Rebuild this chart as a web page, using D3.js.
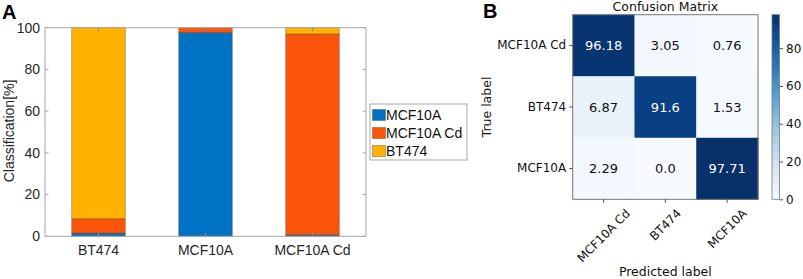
<!DOCTYPE html>
<html>
<head>
<meta charset="utf-8">
<script src="https://cdn.jsdelivr.net/npm/d3@7"></script>
<style>
  body { margin: 0; background: #fff; }
  svg { display: block; }
</style>
</head>
<body>
<div id="chart"></div>
<script>
var width = 803;
var height = 279;

// panel A data
var categories = ["BT474", "MCF10A", "MCF10A Cd"];
var seriesNames = ["MCF10A", "MCF10A Cd", "BT474"];
var mcf10a = [1.53, 97.71, 0.76];
var mcf10aCd = [6.87, 2.29, 96.18];
var bt474 = [91.6, 0, 3.05];
var yTicks = [0, 20, 40, 60, 80, 100];
var barColors = ["#0072c4", "#fc540b", "#ffb300"];

// panel B data
var labels = ["MCF10A Cd", "BT474", "MCF10A"];
var matrix = [
  [96.18, 3.05, 0.76],
  [6.87, 91.6, 1.53],
  [2.29, 0.0, 97.71]
];
var cbTicks = [0, 20, 40, 60, 80];

var svg = d3.select("#chart")
            .append("svg")
            .attr("width", width)
            .attr("height", height);

/* ---------- panel A: stacked bars ---------- */
var a = {left: 45, right: 366, top: 27.7, bottom: 236.3};
var fontA = "Liberation Sans, Arial, sans-serif";

var xA = d3.scaleLinear().domain([0.5, 3.5]).range([a.left, a.right]);
var yA = d3.scaleLinear().domain([0, 100]).range([a.bottom, a.top]);

var rows = categories.map(function(c, i){
  return {cat: c, i: i + 1, "MCF10A": mcf10a[i], "MCF10A Cd": mcf10aCd[i], "BT474": bt474[i]};
});
var stack = d3.stack().keys(seriesNames)(rows);

var gA = svg.append("g");

stack.forEach(function(s, k){
  gA.selectAll(".bar" + k)
    .data(s)
    .enter()
    .append("rect")
    .attr("x", function(d){ return xA(d.data.i - 0.25); })
    .attr("width", xA(1.25) - xA(0.75))
    .attr("y", function(d){ return yA(d[1]); })
    .attr("height", function(d){ return yA(d[0]) - yA(d[1]); })
    .attr("fill", barColors[k])
    .attr("stroke", "#5a3b1c")
    .attr("stroke-opacity", 0.55)
    .attr("stroke-width", 0.7);
});

// box
gA.append("rect")
  .attr("x", a.left).attr("y", a.top)
  .attr("width", a.right - a.left).attr("height", a.bottom - a.top)
  .attr("fill", "none").attr("stroke", "#a8a8a8").attr("stroke-width", 1);

// inner ticks
yTicks.forEach(function(t){
  gA.append("line").attr("x1", a.left).attr("x2", a.left + 3.5)
    .attr("y1", yA(t)).attr("y2", yA(t)).attr("stroke", "#a8a8a8");
  gA.append("line").attr("x1", a.right).attr("x2", a.right - 3.5)
    .attr("y1", yA(t)).attr("y2", yA(t)).attr("stroke", "#a8a8a8");
});
rows.forEach(function(r){
  gA.append("line").attr("x1", xA(r.i)).attr("x2", xA(r.i))
    .attr("y1", a.bottom).attr("y2", a.bottom - 3.5).attr("stroke", "#888");
  gA.append("line").attr("x1", xA(r.i)).attr("x2", xA(r.i))
    .attr("y1", a.top).attr("y2", a.top + 3.5).attr("stroke", "#888");
});

gA.selectAll(".ylab")
  .data(yTicks)
  .enter()
  .append("text")
  .attr("x", a.left - 5)
  .attr("y", function(d){ return yA(d); })
  .attr("dy", "0.35em")
  .attr("text-anchor", "end")
  .attr("font-family", fontA).attr("font-size", 14)
  .attr("fill", "#262626")
  .text(function(d){ return d; });

gA.selectAll(".xlab")
  .data(rows)
  .enter()
  .append("text")
  .attr("x", function(d){ return xA(d.i); })
  .attr("y", 255)
  .attr("text-anchor", "middle")
  .attr("font-family", fontA).attr("font-size", 14)
  .attr("fill", "#262626")
  .text(function(d){ return d.cat; });

gA.append("text")
  .attr("transform", "translate(14," + ((a.top + a.bottom) / 2 - 1) + ") rotate(-90)")
  .attr("text-anchor", "middle")
  .attr("font-family", fontA).attr("font-size", 14)
  .attr("fill", "#262626")
  .text("Classification[%]");

// legend
var lg = gA.append("g").attr("transform", "translate(370,104)");
lg.append("rect").attr("width", 97).attr("height", 56)
  .attr("fill", "#fff").attr("stroke", "#a8a8a8");
seriesNames.forEach(function(n, k){
  var yy = 11 + k * 18;
  lg.append("rect").attr("x", 2.5).attr("y", yy - 5.5).attr("width", 13).attr("height", 11)
    .attr("fill", barColors[k]).attr("stroke", "#5a3b1c").attr("stroke-opacity", 0.55).attr("stroke-width", 0.7);
  lg.append("text").attr("x", 16).attr("y", yy).attr("dy", "0.36em")
    .attr("font-family", fontA).attr("font-size", 14).attr("fill", "#111")
    .text(n);
});

svg.append("text").attr("x", 2).attr("y", 19)
  .attr("font-family", fontA).attr("font-size", 20).attr("font-weight", "bold")
  .text("A");

/* ---------- panel B: confusion matrix ---------- */
var b = {left: 572.7, right: 758, top: 14.7, bottom: 199.3};
var fontB = "DejaVu Sans, sans-serif";
var maxV = d3.max(matrix, function(r){ return d3.max(r); });

var xB = d3.scaleBand().domain(labels).range([b.left, b.right]);
var yB = d3.scaleBand().domain(labels).range([b.top, b.bottom]);
var color = d3.scaleSequential(d3.interpolateBlues).domain([0, maxV]);

var cells = [];
matrix.forEach(function(r, i){
  r.forEach(function(v, j){
    cells.push({row: labels[i], col: labels[j], v: v});
  });
});

var gB = svg.append("g");
gB.selectAll(".cell")
  .data(cells)
  .enter()
  .append("rect")
  .attr("x", function(d){ return xB(d.col); })
  .attr("y", function(d){ return yB(d.row); })
  .attr("width", xB.bandwidth() + 0.5)
  .attr("height", yB.bandwidth() + 0.5)
  .attr("fill", function(d){ return color(d.v); });

gB.selectAll(".val")
  .data(cells)
  .enter()
  .append("text")
  .attr("x", function(d){ return xB(d.col) + xB.bandwidth() / 2; })
  .attr("y", function(d){ return yB(d.row) + yB.bandwidth() / 2; })
  .attr("dy", "0.36em")
  .attr("text-anchor", "middle")
  .attr("font-family", fontB).attr("font-size", 13)
  .attr("fill", function(d){ return d.v > maxV / 2 ? "#fff" : "#111"; })
  .text(function(d){ return Number.isInteger(d.v) ? d.v.toFixed(1) : String(d.v); });

gB.append("rect")
  .attr("x", b.left).attr("y", b.top)
  .attr("width", b.right - b.left).attr("height", b.bottom - b.top)
  .attr("fill", "none").attr("stroke", "#777").attr("stroke-width", 1);

var yAxisB = d3.axisLeft(yB).tickSize(3.5).tickPadding(3);
gB.append("g")
  .attr("transform", "translate(" + b.left + ",0)")
  .call(yAxisB)
  .call(function(g){
    g.select(".domain").remove();
    g.selectAll("line").attr("stroke", "#555");
    g.selectAll("text").attr("font-family", fontB).attr("font-size", 12).attr("fill", "#111");
  });

// x tick labels rotated 45deg, bounding box centred under each tick
var xAxisB = d3.axisBottom(xB).tickSize(3.5).tickPadding(3);
gB.append("g")
  .attr("transform", "translate(0," + b.bottom + ")")
  .call(xAxisB)
  .call(function(g){
    g.select(".domain").remove();
    g.selectAll("line").attr("stroke", "#555");
    g.selectAll("text")
      .attr("font-family", fontB).attr("font-size", 12).attr("fill", "#111")
      .attr("text-anchor", "middle")
      .attr("y", 0)
      .attr("dy", "0.35em")
      .attr("transform", function(){
        var L = this.getComputedTextLength();
        var h = (L + 11) * Math.SQRT1_2;
        return "translate(0," + (8 + h / 2) + ") rotate(-45)";
      });
  });

gB.append("text")
  .attr("x", (b.left + b.right) / 2).attr("y", 11)
  .attr("text-anchor", "middle")
  .attr("font-family", fontB).attr("font-size", 12.5).attr("fill", "#111")
  .text("Confusion Matrix");

gB.append("text")
  .attr("x", (b.left + b.right) / 2).attr("y", 276)
  .attr("text-anchor", "middle")
  .attr("font-family", fontB).attr("font-size", 12.5).attr("fill", "#111")
  .text("Predicted label");

gB.append("text")
  .attr("transform", "translate(491," + ((b.top + b.bottom) / 2) + ") rotate(-90)")
  .attr("text-anchor", "middle")
  .attr("font-family", fontB).attr("font-size", 12.5).attr("fill", "#111")
  .text("True label");

svg.append("text").attr("x", 483).attr("y", 18)
  .attr("font-family", fontA).attr("font-size", 20).attr("font-weight", "bold")
  .text("B");

// colorbar
var cb = {x: 772, w: 7.5};
var yC = d3.scaleLinear().domain([0, maxV]).range([b.bottom, b.top]);
var defs = svg.append("defs");
var grad = defs.append("linearGradient").attr("id", "cbgrad")
  .attr("x1", 0).attr("y1", 1).attr("x2", 0).attr("y2", 0);
d3.range(0, 1.0001, 0.1).forEach(function(t){
  grad.append("stop").attr("offset", t).attr("stop-color", d3.interpolateBlues(t));
});
gB.append("rect")
  .attr("x", cb.x).attr("y", b.top)
  .attr("width", cb.w).attr("height", b.bottom - b.top)
  .attr("fill", "url(#cbgrad)")
  .attr("stroke", "#777").attr("stroke-width", 0.8);

gB.append("g")
  .attr("transform", "translate(" + (cb.x + cb.w) + ",0)")
  .call(d3.axisRight(yC).tickValues(cbTicks).tickSize(3.5).tickPadding(3))
  .call(function(g){
    g.select(".domain").remove();
    g.selectAll("line").attr("stroke", "#555");
    g.selectAll("text").attr("font-family", fontB).attr("font-size", 12).attr("fill", "#111");
  });
</script>
</body>
</html>
